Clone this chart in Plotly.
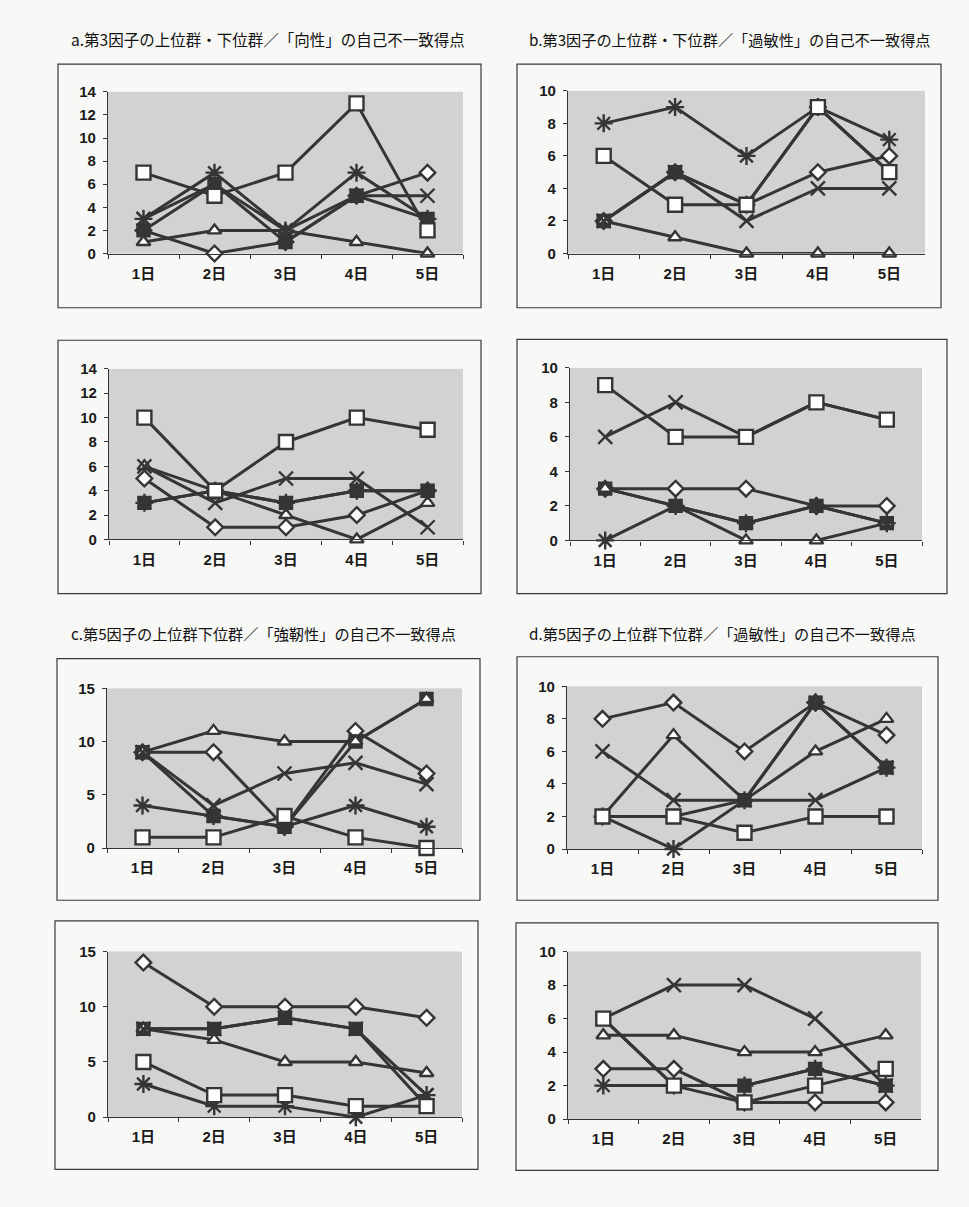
import plotly.graph_objects as go

# Day categories on every x axis
days = ["1日", "2日", "3日", "4日", "5日"]

# Scores per panel; each inner list is one series in the order:
# open diamond, filled square, open triangle, x, asterisk, open square
a_top_values = [
    [2, 0, 1, 5, 7],
    [2, 6, 1, 5, 3],
    [1, 2, 2, 1, 0],
    [3, 6, 2, 5, 5],
    [3, 7, 2, 7, 3],
    [7, 5, 7, 13, 2],
]
b_top_values = [
    [2, 5, 3, 5, 6],
    [2, 5, 3, 9, 5],
    [2, 1, 0, 0, 0],
    [2, 5, 2, 4, 4],
    [8, 9, 6, 9, 7],
    [6, 3, 3, 9, 5],
]
a_bottom_values = [
    [5, 1, 1, 2, 4],
    [3, 4, 3, 4, 4],
    [6, 4, 2, 0, 3],
    [6, 3, 5, 5, 1],
    [3, 4, 3, 4, 4],
    [10, 4, 8, 10, 9],
]
b_bottom_values = [
    [3, 3, 3, 2, 2],
    [3, 2, 1, 2, 1],
    [3, 2, 0, 0, 1],
    [6, 8, 6, 8, 7],
    [0, 2, 1, 2, 1],
    [9, 6, 6, 8, 7],
]
c_top_values = [
    [9, 9, 2, 11, 7],
    [9, 3, 2, 10, 14],
    [9, 11, 10, 10, 14],
    [9, 4, 7, 8, 6],
    [4, 3, 2, 4, 2],
    [1, 1, 3, 1, 0],
]
d_top_values = [
    [8, 9, 6, 9, 7],
    [2, 2, 3, 9, 5],
    [2, 7, 3, 6, 8],
    [6, 3, 3, 3, 5],
    [2, 0, 3, 9, 5],
    [2, 2, 1, 2, 2],
]
c_bottom_values = [
    [14, 10, 10, 10, 9],
    [8, 8, 9, 8, 1],
    [8, 7, 5, 5, 4],
    [8, 8, 9, 8, 2],
    [3, 1, 1, 0, 2],
    [5, 2, 2, 1, 1],
]
d_bottom_values = [
    [3, 3, 1, 1, 1],
    [6, 2, 2, 3, 2],
    [5, 5, 4, 4, 5],
    [6, 8, 8, 6, 2],
    [2, 2, 2, 3, 2],
    [6, 2, 1, 2, 3],
]

# Panel titles
title_a = "a.第3因子の上位群・下位群／「向性」の自己不一致得点"
title_b = "b.第3因子の上位群・下位群／「過敏性」の自己不一致得点"
title_c = "c.第5因子の上位群下位群／「強靭性」の自己不一致得点"
title_d = "d.第5因子の上位群下位群／「過敏性」の自己不一致得点"

W, H = 969, 1207
INK = "#353535"

# Marker styles for the six series
styles = [
    dict(symbol="diamond", size=12, color="white"),
    dict(symbol="square", size=12, color=INK),
    dict(symbol="triangle-up", size=12, color="white"),
    dict(symbol="x-thin", size=14, color=INK),
    dict(symbol="asterisk", size=15, color=INK),
    dict(symbol="square", size=14, color="white"),
]

# Each panel: values, y max, y step, plot area (x0, x1, top, bottom) and outer box
panels = [
    (a_top_values, 14, 2, (108, 463, 84, 248), (58, 481, 56, 303)),
    (b_top_values, 10, 2, (568, 925, 83, 248), (517, 941, 56, 303)),
    (a_bottom_values, 14, 2, (109, 463, 365, 538), (58, 481, 336, 593)),
    (b_bottom_values, 10, 2, (570, 922, 364, 539), (517, 947, 335, 593)),
    (c_top_values, 15, 5, (107, 462, 689, 851), (57, 480, 659, 904)),
    (d_top_values, 10, 2, (567, 922, 687, 852), (517, 938, 657, 904)),
    (c_bottom_values, 15, 5, (108, 462, 956, 1124), (55, 478, 925, 1177)),
    (d_bottom_values, 10, 2, (568, 921, 956, 1126), (516, 938, 927, 1178)),
]

fig = go.Figure()
layout = {}
shapes = []
tick_font = dict(family="Liberation Sans, Noto Sans CJK JP", size=15, color="#1a1a1a", weight="bold")

for i, (values, ymax, ystep, (x0, x1, top, bottom), box) in enumerate(panels):
    n = "" if i == 0 else str(i + 1)
    xa, ya = "x" + n, "y" + n
    for series, st in zip(values, styles):
        fig.add_trace(go.Scatter(
            x=days, y=series, xaxis=xa, yaxis=ya,
            mode="lines+markers", cliponaxis=False, showlegend=False,
            line=dict(color=INK, width=3),
            marker=dict(symbol=st["symbol"], size=st["size"], color=st["color"],
                        line=dict(color=INK, width=2.4)),
        ))
    layout["xaxis" + n] = dict(
        domain=[x0 / W, x1 / W], anchor=ya, type="category",
        range=[-0.5, 4.5], tickson="boundaries", ticks="outside", ticklen=4,
        tickcolor=INK, showline=True, linecolor=INK, linewidth=1.2,
        showgrid=False, zeroline=False, tickfont=tick_font, ticklabelstandoff=6,
        fixedrange=True,
    )
    layout["yaxis" + n] = dict(
        domain=[1 - bottom / H, 1 - top / H], anchor=xa,
        range=[0, ymax], dtick=ystep, tick0=0, ticks="outside", ticklen=4,
        tickcolor=INK, showline=True, linecolor=INK, linewidth=1.2,
        showgrid=False, zeroline=False, tickfont=tick_font, ticklabelstandoff=4,
        fixedrange=True,
    )
    # outer chart-area frame around each panel
    bx0, bx1, by0, by1 = box
    shapes.append(dict(
        type="rect", xref="paper", yref="paper", layer="above",
        x0=bx0 / W, x1=bx1 / W, y0=1 - by1 / H, y1=1 - by0 / H,
        line=dict(color="#3a3a3a", width=1.2), fillcolor="rgba(0,0,0,0)",
    ))

annotations = [
    dict(text=title_a, x=268 / W, y=1 - 30 / H, size=15.5),
    dict(text=title_b, x=730 / W, y=1 - 30 / H, size=15.2),
    dict(text=title_c, x=263 / W, y=1 - 633 / H, size=15.2),
    dict(text=title_d, x=722 / W, y=1 - 633 / H, size=15.2),
]
for ann in annotations:
    size = ann.pop("size")
    ann.update(xref="paper", yref="paper", xanchor="center", yanchor="middle",
               showarrow=False,
               font=dict(family="Noto Sans CJK JP", size=size, color="#111111"))

fig.update_layout(
    width=W, height=H,
    margin=dict(l=0, r=0, t=0, b=0),
    paper_bgcolor="#f8f8f6",
    plot_bgcolor="#d2d2d2",
    shapes=shapes,
    annotations=annotations,
    **layout,
)

fig.write_html("out.html")
